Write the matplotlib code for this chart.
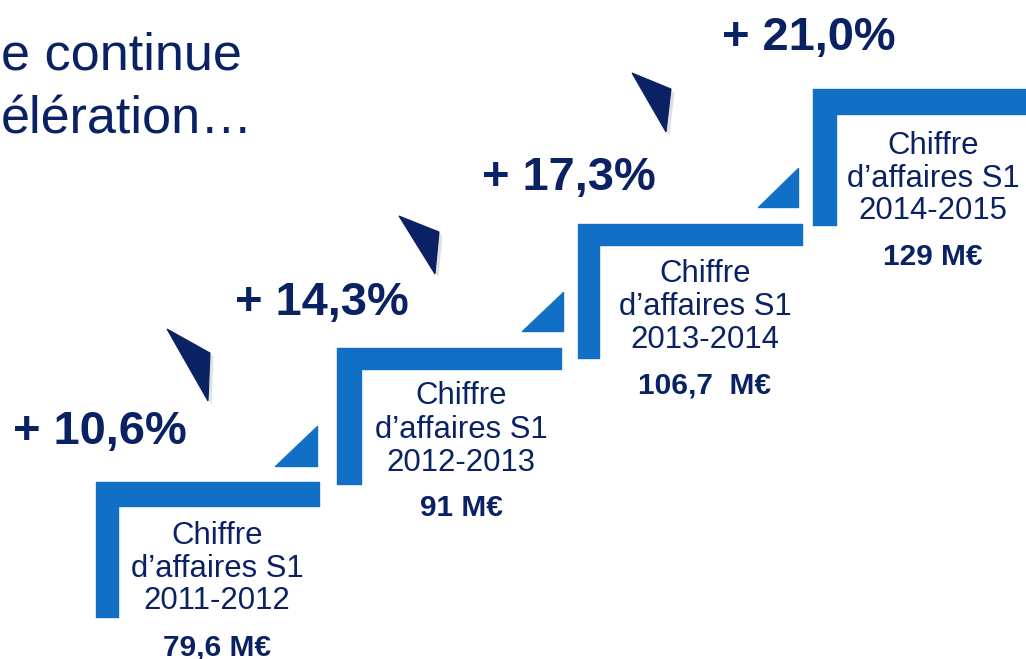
import matplotlib
matplotlib.use("Agg")
import matplotlib.pyplot as plt
from matplotlib.patches import Polygon
import matplotlib.patheffects as pe

# ---- data ----
periods = ["2011-2012", "2012-2013", "2013-2014", "2014-2015"]
revenue_labels = ["79,6 M€", "91 M€", "106,7  M€", "129 M€"]
growth_labels = ["+ 10,6%", "+ 14,3%", "+ 17,3%", "+ 21,0%"]
title_lines = ["e continue", "élération…"]

# ---- layout (pixel coordinates, y downward) ----
W, H = 1026, 659
step_left = [96, 337, 578, 813]
step_top = [482, 348, 224, 89]
step_right = [319, 561, 802, 1040]
step_bottom = [617, 484, 358, 225]
bar_h = [24, 21, 21, 25]
bar_v = [22, 24, 21, 23]

small_tri = [[(275, 466), (317, 466), (317, 426)],
             [(522, 331), (563, 331), (563, 292)],
             [(758, 207), (798, 207), (798, 168)]]
dark_tri = [[(167, 329), (210, 353), (208, 401)],
            [(399, 216), (439, 232), (435, 274)],
            [(632, 73), (671, 89), (666, 132)]]

text_cx = [217, 461, 705, 933]
line_base = [[544, 577, 609, 655],
             [404, 438, 471, 516],
             [282, 315, 348, 394],
             [154, 187, 219, 265]]
growth_x = [13, 235, 482, 722]
growth_base = [444, 315, 190, 50]

BLUE = "#1170C6"
NAVY = "#0A2263"
FONT = "Liberation Sans"

fig = plt.figure(figsize=(W / 100, H / 100), dpi=100)
ax = fig.add_axes([0, 0, 1, 1])
ax.set_xlim(0, W)
ax.set_ylim(H, 0)
ax.axis("off")

# L-shaped steps
for i in range(len(periods)):
    l, t, r, b = step_left[i], step_top[i], step_right[i], step_bottom[i]
    th, tv = bar_h[i], bar_v[i]
    pts = [(l, t), (r, t), (r, t + th), (l + tv, t + th), (l + tv, b), (l, b)]
    ax.add_patch(Polygon(pts, closed=True, facecolor=BLUE, edgecolor=BLUE,
                         linewidth=1.0, joinstyle="round"))
    cx = text_cx[i]
    ys = line_base[i]
    for txt, y in zip(["Chiffre", "d\u2019affaires S1", periods[i]], ys[:3]):
        ax.text(cx, y, txt, ha="center", va="baseline", fontsize=22.4,
                color=NAVY, family=FONT)
    ax.text(cx, ys[3], revenue_labels[i], ha="center", va="baseline",
            fontsize=21.5, color=NAVY, family=FONT, fontweight="bold")

# small blue triangles
for tri in small_tri:
    ax.add_patch(Polygon(tri, closed=True, facecolor=BLUE, edgecolor=BLUE,
                         linewidth=1.0, joinstyle="round"))

# dark arrow triangles with soft shadow
for tri in dark_tri:
    p = Polygon(tri, closed=True, facecolor=NAVY, edgecolor=NAVY, linewidth=0.8)
    p.set_path_effects([pe.SimplePatchShadow(offset=(2.5, -2.5), shadow_rgbFace="#999999", alpha=0.3),
                        pe.Normal()])
    ax.add_patch(p)

# growth labels
for lab, x, y in zip(growth_labels, growth_x, growth_base):
    ax.text(x, y, lab, ha="left", va="baseline", fontsize=33.8, color=NAVY,
            family=FONT, fontweight="bold")

# title fragment
ax.text(242, 70, title_lines[0], ha="right", va="baseline", fontsize=37.5,
        color=NAVY, family=FONT)
ax.text(1, 133, title_lines[1], ha="left", va="baseline", fontsize=37.5,
        color=NAVY, family=FONT)

fig.savefig("out.png", dpi=100)
